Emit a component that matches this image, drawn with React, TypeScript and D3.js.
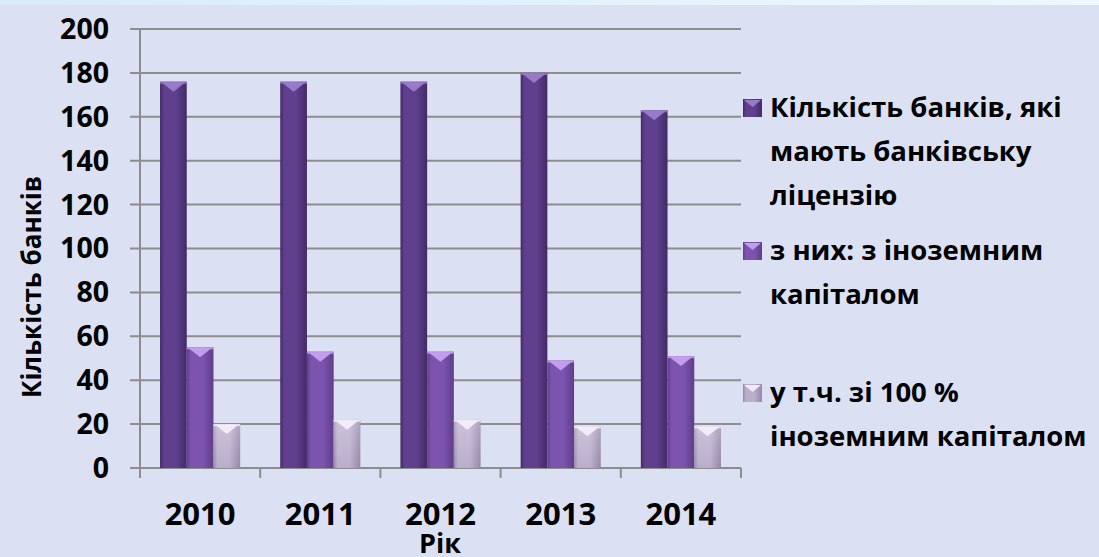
import * as d3 from "d3";

const years = ["2010", "2011", "2012", "2013", "2014"];
const licensed = [176, 176, 176, 180, 163];
const foreignCap = [55, 53, 53, 49, 51];
const foreign100 = [20, 22, 22, 19, 19];
const legendLines = [
  ["Кількість банків, які", "мають банківську", "ліцензію"],
  ["з них: з іноземним", "капіталом"],
  ["у т.ч. зі 100 %", "іноземним капіталом"],
];
const yTicks = [0, 20, 40, 60, 80, 100, 120, 140, 160, 180, 200];

const W = 1099;
const H = 557;
const font = "'Open Sans', 'Noto Sans', sans-serif";

// edge, centre, top bevel
const palette = [
  { edge: "#442a66", mid: "#5f3f8e", top: "#a07fcf" },
  { edge: "#5f3d8a", mid: "#7c54b0", top: "#c9a6f2" },
  { edge: "#9486a8", mid: "#bbaecd", top: "#f7f0fc" },
];

export default function App() {
  const series = [licensed, foreignCap, foreign100];

  const x0 = d3
    .scaleBand<string>()
    .domain(years)
    .range([140, 741])
    .paddingInner(1 / 3)
    .paddingOuter(1 / 6);
  const x1 = d3
    .scaleBand<number>()
    .domain([0, 1, 2])
    .range([0, x0.bandwidth()]);
  const y = d3.scaleLinear().domain([0, 200]).range([468, 29]);

  const half = (x0.step() * x0.paddingInner()) / 2;
  const bounds = years.map((yr) => x0(yr)! - half).concat([741]);

  const legendTop = [108, 251, 393];

  return (
    <svg
      width={W}
      height={H}
      style={{ position: "absolute", left: 0, top: 0, display: "block" }}
    >
      <defs>
        <linearGradient id="strip" x1="0" x2="1" y1="0" y2="0">
          <stop offset="0" stopColor="#d6ecfa" />
          <stop offset="1" stopColor="#eef8fd" />
        </linearGradient>
        {palette.map((p, i) => (
          <linearGradient key={i} id={`bar${i}`} x1="0" x2="1" y1="0" y2="0">
            <stop offset="0" stopColor={p.edge} />
            <stop offset="0.15" stopColor={p.mid} />
            <stop offset="0.6" stopColor={p.mid} />
            <stop offset="1" stopColor={p.edge} />
          </linearGradient>
        ))}
        <linearGradient id="shine" x1="0" x2="0" y1="0" y2="1">
          <stop offset="0" stopColor="#ffffff" stopOpacity={0.25} />
          <stop offset="1" stopColor="#ffffff" stopOpacity={0} />
        </linearGradient>
      </defs>

      <rect x={0} y={0} width={W} height={H} fill="#dbe0f2" />
      <rect x={0} y={0} width={W} height={5} fill="url(#strip)" />

      {/* grid */}
      {yTicks.map((t) => (
        <line
          key={t}
          x1={130}
          x2={741}
          y1={y(t)}
          y2={y(t)}
          stroke="#8d8d8d"
          strokeWidth={2}
        />
      ))}
      <line x1={140} x2={140} y1={y(200)} y2={478} stroke="#8d8d8d" strokeWidth={2} />
      {bounds.slice(1).map((b, i) => (
        <line key={i} x1={b} x2={b} y1={468} y2={478} stroke="#8d8d8d" strokeWidth={2} />
      ))}

      {/* bars */}
      {series.map((vals, s) =>
        vals.map((v, i) => {
          const bx = x0(years[i])! + x1(s)!;
          const bw = x1.bandwidth();
          const by = y(v);
          const bh = y(0) - by;
          return (
            <g key={`${s}-${i}`}>
              <rect x={bx} y={by} width={bw} height={bh} fill={`url(#bar${s})`} />
              {s === 2 && (
                <rect x={bx} y={by} width={bw} height={bh} fill="url(#shine)" />
              )}
              <rect x={bx} y={by} width={bw} height={2} fill={palette[s].top} opacity={0.8} />
              <polygon
                points={`${bx + 2},${by + 1} ${bx + bw - 2},${by + 1} ${bx + bw / 2},${by + 10}`}
                fill={palette[s].top}
                opacity={0.9}
              />
            </g>
          );
        })
      )}

      {/* y tick labels */}
      {yTicks.map((t) => (
        <text
          key={t}
          x={109}
          y={y(t)}
          dy="0.35em"
          textAnchor="end"
          fontFamily={font}
          fontWeight="bold"
          fontSize={28.5}
          fill="#000"
        >
          {t}
        </text>
      ))}

      {/* x tick labels */}
      {years.map((yr) => (
        <text
          key={yr}
          x={x0(yr)! + x0.bandwidth() / 2}
          y={514}
          dy="0.35em"
          textAnchor="middle"
          fontFamily={font}
          fontWeight="bold"
          fontSize={31}
          fill="#000"
        >
          {yr}
        </text>
      ))}

      <text
        x={440}
        y={553}
        textAnchor="middle"
        fontFamily={font}
        fontWeight="bold"
        fontSize={27}
        fill="#000"
      >
        Рік
      </text>

      <text
        transform="translate(32,287) rotate(-90)"
        dy="0.35em"
        textAnchor="middle"
        fontFamily={font}
        fontWeight="bold"
        fontSize={26}
        fill="#000"
      >
        Кількість банків
      </text>

      {/* legend */}
      {legendLines.map((lines, k) => (
        <g key={k}>
          <rect x={743} y={legendTop[k] - 9} width={19} height={18} fill={`url(#bar${k})`} />
          <polygon
            points={`${744},${legendTop[k] - 8} ${761},${legendTop[k] - 8} ${752.5},${legendTop[k] - 1}`}
            fill={palette[k].top}
            opacity={0.9}
          />
          {lines.map((ln, j) => (
            <text
              key={j}
              x={770}
              y={legendTop[k] + 9 + j * 44}
              fontFamily={font}
              fontWeight="bold"
              fontSize={27.5}
              fill="#000"
            >
              {ln}
            </text>
          ))}
        </g>
      ))}
    </svg>
  );
}
